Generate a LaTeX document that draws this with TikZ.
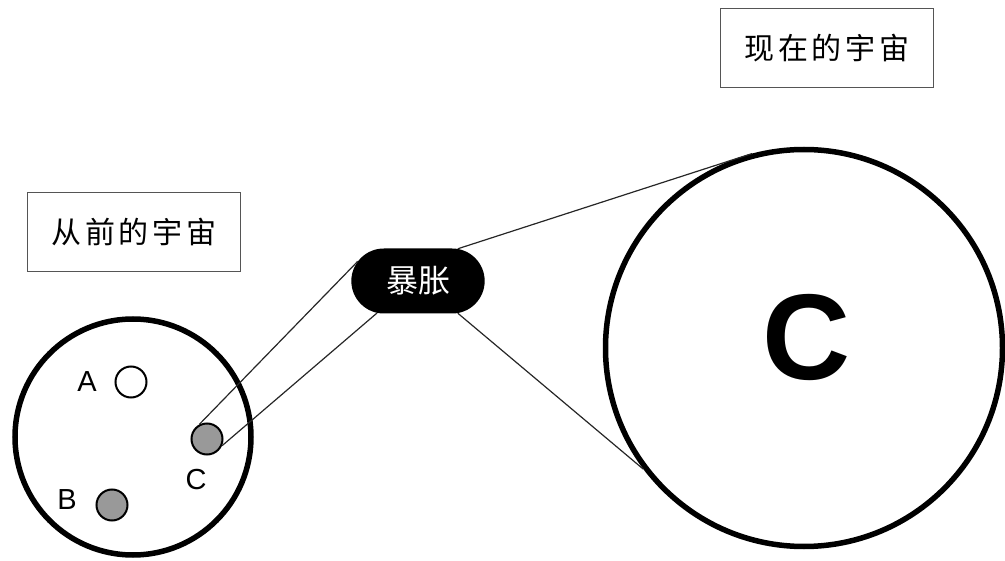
\documentclass[tikz,border=0pt]{standalone}
\usepackage{fontspec}
\setmainfont{Liberation Sans}
\newfontfamily\cjk[LetterSpace=12]{Noto Sans CJK SC}
\newfontfamily\cjktight{Noto Sans CJK SC}
\usetikzlibrary{shapes.misc}
\definecolor{dotgray}{HTML}{999999}
\definecolor{boxgray}{HTML}{555555}
\tikzset{
  universe/.style={circle, draw, line width=5.5pt, inner sep=0pt},
  dot/.style={circle, draw, line width=2pt, inner sep=0pt, minimum size=31pt},
  titlebox/.style={draw=boxgray, line width=1.5pt, minimum width=213pt, minimum height=79pt, font=\cjk\fontsize{30}{30}\selectfont},
  letter/.style={font=\fontsize{29}{29}\selectfont},
  link/.style={line width=1.2pt, black!85}
}
\begin{document}
\begin{tikzpicture}[x=1pt,y=-1pt]
\useasboundingbox (0,0) rectangle (1005,561);

% title boxes
\node[titlebox] (before) at (134,232) {从前的宇宙};
\node[titlebox] (now) at (827,48) {现在的宇宙};

% small universe
\node[universe, minimum size=236pt] (small) at (133,437) {};
\node[dot, fill=white] (dA) at (131,382) {};
\node[dot, fill=dotgray] (dB) at (112,505) {};
\node[dot, fill=dotgray] (dC) at (207,439) {};
\node[letter] (lA) at (87,382) {A};
\node[letter] (lB) at (67,500) {B};
\node[letter] (lC) at (196,480) {C};

% inflation
\node[rounded rectangle, fill=black, minimum width=140pt, minimum height=65pt,
      text=white, font=\cjktight\fontsize{32}{32}\selectfont] (boom) at (418,281) {暴胀};

% large universe
\node[universe, minimum size=397pt] (large) at (804,348) {};
\node[font=\bfseries\fontsize{122}{122}\selectfont] (bigC) at (807,338) {C};

% connecting lines
\draw[link] (dC.118) -- (boom.162);
\draw[link] (dC.-24) -- (boom.-142);
\draw[link] (boom.39) -- (large.105);
\draw[link] (boom.-39) -- (large.217);

\end{tikzpicture}
\end{document}
